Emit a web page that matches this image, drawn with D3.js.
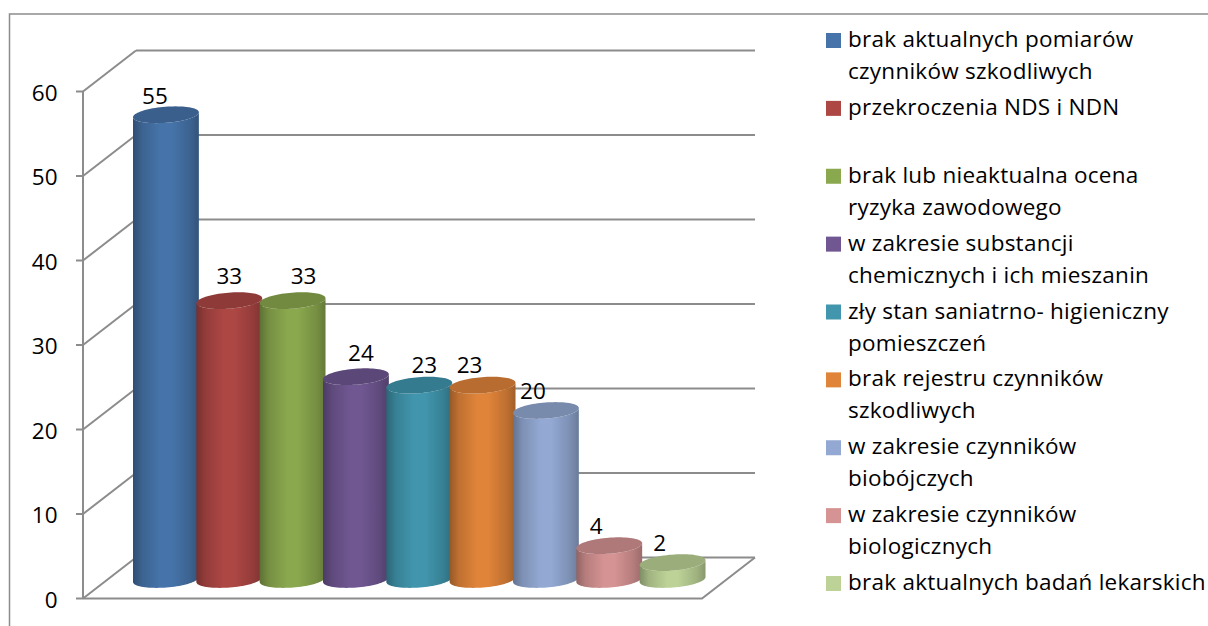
<!DOCTYPE html>
<html><head><meta charset="utf-8">
<script src="https://cdn.jsdelivr.net/npm/d3@7/dist/d3.min.js"></script>
<style>html,body{margin:0;padding:0;background:#fff}svg{display:block}text{font-family:"Open Sans",Lato,sans-serif;fill:#000}</style>
</head><body><svg id="c" width="1208" height="626"></svg>
<script>
const categories = [
  ["brak aktualnych pomiarów","czynników szkodliwych"],
  ["przekroczenia NDS i NDN"],
  ["brak lub nieaktualna ocena","ryzyka zawodowego"],
  ["w zakresie substancji","chemicznych i ich mieszanin"],
  ["zły stan saniatrno- higieniczny","pomieszczeń"],
  ["brak rejestru czynników","szkodliwych"],
  ["w zakresie czynników","biobójczych"],
  ["w zakresie czynników","biologicznych"],
  ["brak aktualnych badań lekarskich"]
];
const values = [55,33,33,24,23,23,20,4,2];
const colors = ["#4674aa","#ad4744","#8aa84e","#705792","#4196ae","#e0843a","#93a9d3","#d69393","#bcd296"];
const yTicks = [0,10,20,30,40,50,60];
const legendRows = [0,2,4,6,8,10,12,14,16];
const labelDx = [-11,0,11,5,5,-13,-13,-13,-13];
const labelDy = [-11,-17,-17,-16,-12,-12,-12,-12,-12];

const svg = d3.select("#c");
const grid = "#8c8c8c";
const y = d3.scaleLinear().domain([0,60]).range([598.5,91.5]);
const x = d3.scaleBand().domain(d3.range(values.length)).range([133,705.5]).paddingInner(-0.04);
const depthX = 53, depthY = -41;
const baseY = 579.5, unit = y(0)-y(1);
const frontRight = 702;

// chart frame
svg.append("path").attr("d","M9.5,626V14H1208").attr("fill","none").attr("stroke",grid).attr("stroke-width",1.5);

// walls
const g = svg.append("g").attr("stroke",grid).attr("stroke-width",2).attr("fill","none");
yTicks.forEach(t=>{
  const yy=y(t);
  g.append("line").attr("x1",83).attr("x2",83+depthX).attr("y1",yy).attr("y2",yy+depthY);
  g.append("line").attr("x1",83+depthX).attr("x2",frontRight+depthX).attr("y1",yy+depthY).attr("y2",yy+depthY);
  g.append("line").attr("x1",76).attr("x2",83).attr("y1",yy).attr("y2",yy);
});
g.append("line").attr("x1",83).attr("x2",83).attr("y1",y(0)).attr("y2",y(60));
g.append("path").attr("d",`M83,${y(0)}H${frontRight}L${frontRight+depthX},${y(0)+depthY}`);

svg.append("g").selectAll("text").data(yTicks).join("text")
  .attr("x",57.5).attr("y",d=>y(d)+9).attr("text-anchor","end").attr("font-size",22.5).text(d=>d);

// gradients
const defs = svg.append("defs");
colors.forEach((c,i)=>{
  const gr = defs.append("linearGradient").attr("id","g"+i).attr("x1",0).attr("x2",1).attr("y1",0).attr("y2",0);
  const d1=d3.color(c).darker(1.1), d2=d3.color(c).darker(0.45), d3c=d3.color(c).darker(0.9);
  [[0,d1],[0.14,d2],[0.42,c],[0.58,c],[0.86,d2],[1,d3c]].forEach(s=>gr.append("stop").attr("offset",s[0]).attr("stop-color",s[1]));
});

// cylinders, outlined from sampled tilted ellipses
const tilt=-4.5*Math.PI/180, ryy=8, steps=d3.range(0,41);
const line=d3.line();
function pt(cx,cy,R,a){
  const ex=R*Math.cos(a), ey=ryy*Math.sin(a);
  return [cx+ex*Math.cos(tilt)-ey*Math.sin(tilt), cy+ex*Math.sin(tilt)+ey*Math.cos(tilt)];
}
const bars = svg.append("g").selectAll("g").data(values).join("g");
bars.each(function(v,i){
  const s=d3.select(this), w=x.bandwidth(), cx=x(i)+w/2, topY=baseY-v*unit, R=(w/2)/Math.cos(tilt);
  const front=(cy)=>steps.map(k=>pt(cx,cy,R,Math.PI-Math.PI*k/40));
  const lower=front(baseY), upper=front(topY).reverse();
  s.append("path").attr("fill",`url(#g${i})`).attr("d",line(lower.concat(upper))+"Z");
  s.append("path").attr("fill",d3.color(colors[i]).darker(0.55))
    .attr("d",line(d3.range(0,80).map(k=>pt(cx,topY,R,2*Math.PI*k/80)))+"Z");
  s.append("text").attr("x",cx+labelDx[i]).attr("y",topY+labelDy[i]).attr("text-anchor","middle").attr("font-size",22.5).text(v);
});

// legend
const ly = d3.scaleLinear().domain([0,16]).range([47,590]);
const leg = svg.append("g").selectAll("g").data(categories).join("g");
leg.append("rect").attr("x",826).attr("width",15).attr("height",15)
  .attr("y",(d,i)=>ly(legendRows[i])-14).attr("fill",(d,i)=>colors[i]);
leg.each(function(lines,i){
  d3.select(this).selectAll("text").data(lines).join("text")
    .attr("x",848).attr("y",(d,j)=>ly(legendRows[i])+j*32).attr("font-size",22.5).attr("letter-spacing",0.25).text(d=>d);
});
</script></body></html>
